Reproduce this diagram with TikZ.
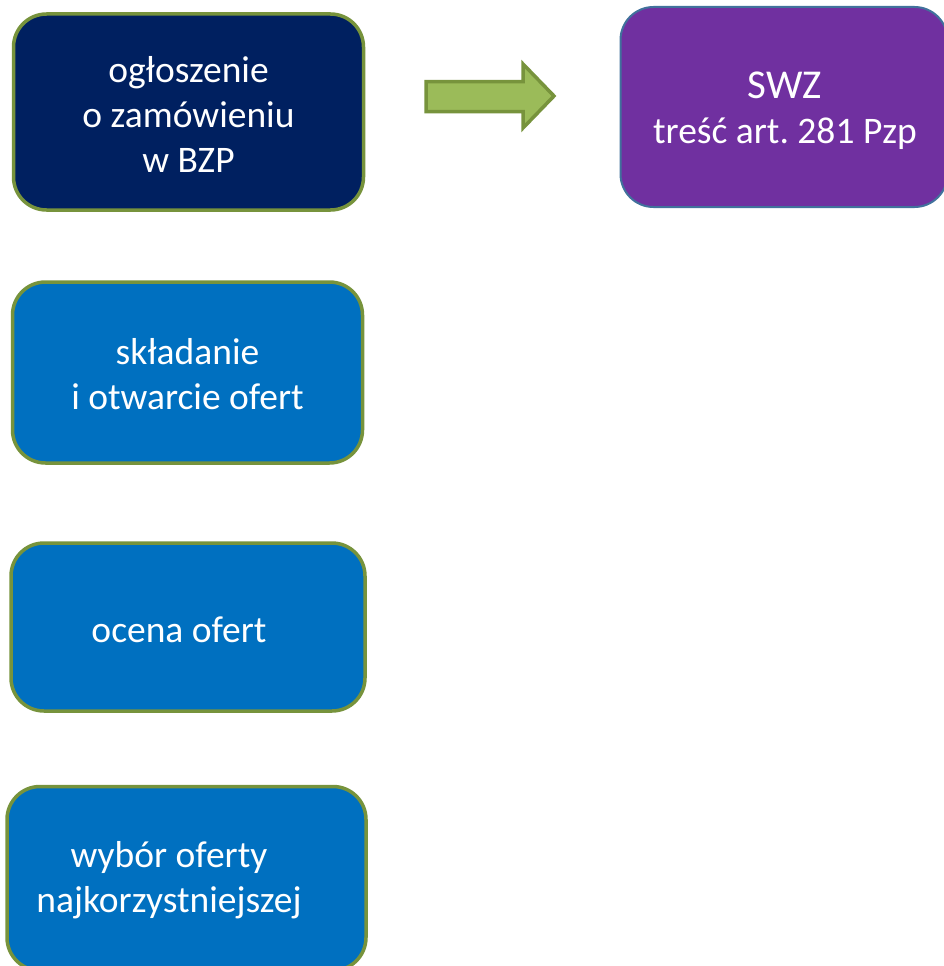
\documentclass[tikz,border=0pt]{standalone}
\usepackage{fontspec}
\setmainfont{Carlito}
\frenchspacing
\definecolor{navy}{HTML}{002060}
\definecolor{bluebox}{HTML}{0070C0}
\definecolor{purplebox}{HTML}{7030A0}
\definecolor{greenline}{HTML}{77933C}
\definecolor{greenfill}{HTML}{9BBB59}
\definecolor{swzline}{HTML}{41719C}
\tikzset{
  stagebox/.style={draw=greenline, line width=3.5pt, rounded corners=33pt, inner sep=0pt},
  boxtext/.style={text=white, align=center, font=\fontsize{37.5}{45}\selectfont, inner sep=0pt},
}
\begin{document}
\begin{tikzpicture}[x=1pt,y=-1pt]
\useasboundingbox (0,0) rectangle (944,966);
\clip (0,0) rectangle (944,966);
% box 1
\node[stagebox, fill=navy, minimum width=350pt, minimum height=196pt] (b1) at (188.5,112) {};
\node[boxtext] (t1) at (188.5,114) {ogłoszenie\\o zamówieniu\\w BZP};
% arrow
\draw[greenline, fill=greenfill, line width=3.5pt, line join=miter]
  (426,81.5) -- (523,81.5) -- (523,64) -- (554,96) -- (523,128) -- (523,111.5) -- (426,111.5) -- cycle;
% SWZ box
\node[draw=swzline, line width=2pt, fill=purplebox, rounded corners=33pt, minimum width=327pt, minimum height=200pt, inner sep=0pt] (swz) at (784,107) {};
\node[text=white, align=center, inner sep=0pt, font=\fontsize{37.5}{45}\selectfont] (tswz) at (785,111) {{\fontsize{41}{45}\selectfont SWZ}\\treść art.\ 281 Pzp};
% box 2
\node[stagebox, fill=bluebox, minimum width=350pt, minimum height=181pt] (b2) at (187.5,372.5) {};
\node[boxtext] (t2) at (187.5,374) {składanie\\i otwarcie ofert};
% box 3
\node[stagebox, fill=bluebox, minimum width=354pt, minimum height=168pt] (b3) at (188,627) {};
\node[boxtext] (t3) at (179,630) {ocena ofert};
% box 4
\node[stagebox, fill=bluebox, minimum width=359pt, minimum height=184pt] (b4) at (186.5,878.5) {};
\node[boxtext] (t4) at (169,880) {wybór oferty\\najkorzystniejszej};
\end{tikzpicture}
\end{document}
